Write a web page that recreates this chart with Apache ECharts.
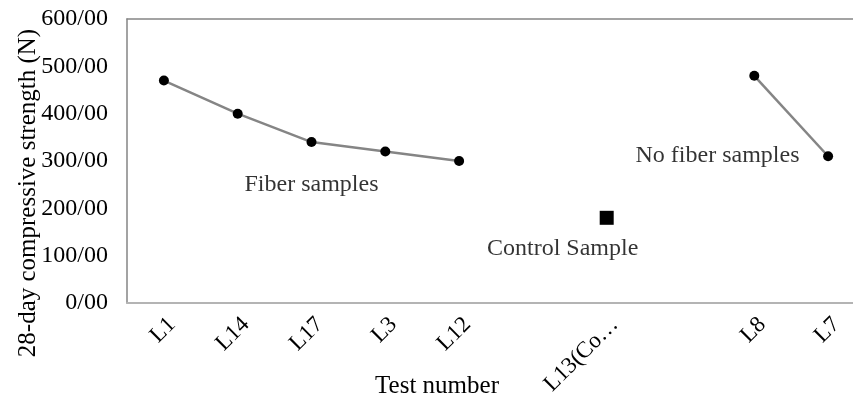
<!DOCTYPE html>
<html>
<head>
<meta charset="utf-8">
<script src="https://cdn.jsdelivr.net/npm/echarts@6/dist/echarts.min.js"></script>
<style>
  html, body { margin: 0; padding: 0; background: #fff; }
  #chart { width: 853px; height: 402px; }
</style>
</head>
<body>
<div id="chart"></div>
<script>
// categories (two blank slots separate the groups)
var categories = ['L1', 'L14', 'L17', 'L3', 'L12', '', 'L13(Co\u2026', '', 'L8', 'L7'];
var fiberValues = [470, 400, 340, 320, 300, null, null, null, null, null];
var controlValues = [null, null, null, null, null, null, 180, null, null, null];
var noFiberValues = [null, null, null, null, null, null, null, null, 480, 310];

// text notes placed in data space
var noteText = ['Fiber samples', 'Control Sample', 'No fiber samples'];
var noteCat = ['L17', 'L13(Co\u2026', ''];
var noteValue = [250, 115, 311];

var font = "'Liberation Serif', 'Times New Roman', serif";
var lineColor = '#858585';

var chart = echarts.init(document.getElementById('chart'));

var notes = noteText.map(function (t, i) {
  // the blank category is ambiguous, so use its index
  var x = noteCat[i] === '' ? 7 : categories.indexOf(noteCat[i]);
  return { value: [x, noteValue[i]], name: t };
});
var noteOffsets = [[0, 0], [-44, 0], [37, 0]];

chart.setOption({
  animation: false,
  grid: { left: 127, top: 19, width: 738, height: 284, outerBoundsMode: 'none', containLabel: false },
  xAxis: [
    {
      type: 'category',
      data: categories,
      boundaryGap: true,
      axisLine: { show: true, lineStyle: { color: '#b4b4b4', width: 2 } },
      axisTick: { show: false },
      axisLabel: {
        interval: 0,
        rotate: 45,
        margin: 10,
        verticalAlign: 'top',
        color: '#000',
        fontFamily: font,
        fontSize: 23
      },
      name: 'Test number',
      nameLocation: 'middle',
      nameGap: 71,
      nameMoveOverlap: false,
      nameTextStyle: { color: '#000', fontFamily: font, fontSize: 25, padding: [0, 118, 0, 0] }
    },
    {
      type: 'category',
      position: 'top',
      data: categories,
      axisLine: { show: true, lineStyle: { color: lineColor, width: 1.5 } },
      axisTick: { show: false },
      axisLabel: { show: false }
    }
  ],
  yAxis: {
    type: 'value',
    min: 0,
    max: 600,
    interval: 100,
    axisLine: { show: true, lineStyle: { color: lineColor, width: 1.5 } },
    axisTick: { show: false },
    splitLine: { show: false },
    axisLabel: {
      margin: 19,
      color: '#000',
      fontFamily: font,
      fontSize: 24,
      formatter: function (v) { return v + '/00'; }
    },
    name: '28-day compressive strength (N)',
    nameLocation: 'middle',
    nameGap: 86,
    nameMoveOverlap: false,
    nameTextStyle: { color: '#000', fontFamily: font, fontSize: 25, padding: [0, 64, 0, 0] }
  },
  series: [
    {
      name: 'Fiber samples',
      type: 'line',
      data: fiberValues,
      symbol: 'circle',
      symbolSize: 10,
      itemStyle: { color: '#000' },
      lineStyle: { color: lineColor, width: 2.5 }
    },
    {
      name: 'Control Sample',
      type: 'line',
      data: controlValues,
      symbol: 'rect',
      symbolSize: 14,
      itemStyle: { color: '#000' },
      lineStyle: { width: 0 }
    },
    {
      name: 'No fiber samples',
      type: 'line',
      data: noFiberValues,
      symbol: 'circle',
      symbolSize: 10,
      itemStyle: { color: '#000' },
      lineStyle: { color: lineColor, width: 2.5 }
    },
    {
      type: 'scatter',
      symbolSize: 0,
      silent: true,
      data: notes.map(function (n, i) {
        return {
          value: n.value,
          label: {
            show: true,
            position: 'inside',
            offset: noteOffsets[i],
            formatter: n.name,
            color: '#000',
            fontFamily: font,
            fontSize: 24
          }
        };
      })
    }
  ]
});
</script>
</body>
</html>
